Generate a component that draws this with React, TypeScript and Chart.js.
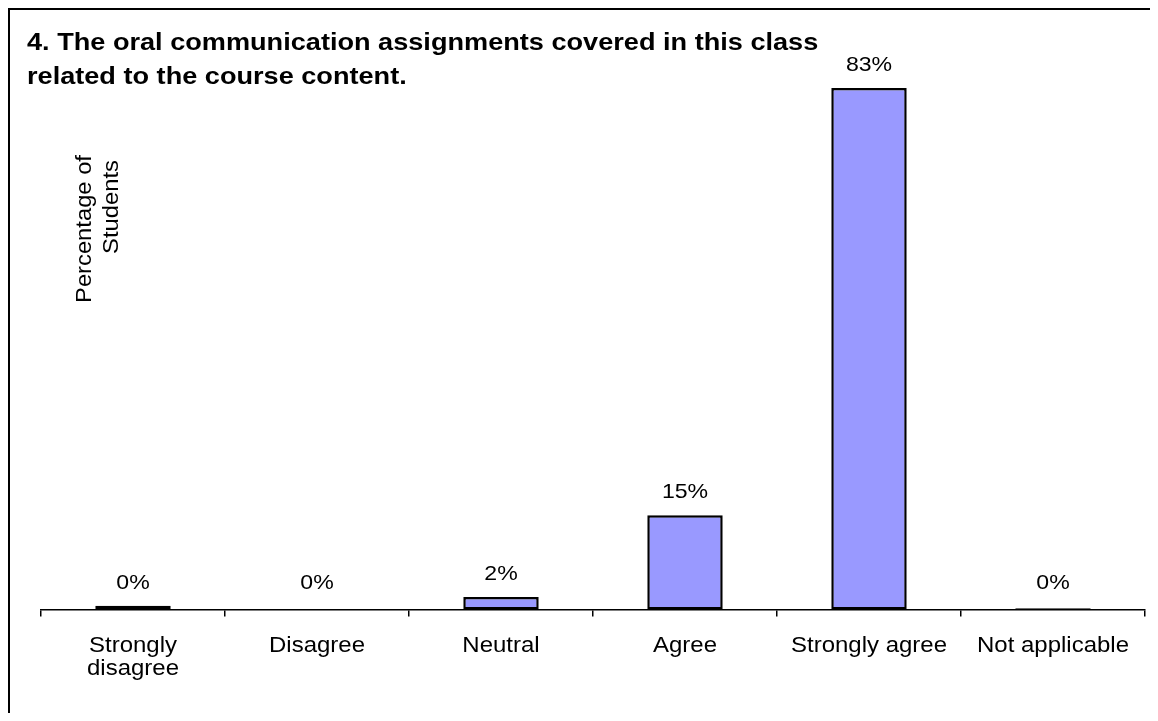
import React, { useEffect, useRef } from "react";
import { Chart, registerables } from "chart.js";

Chart.register(...registerables);

const titleLines = [
  "4. The oral communication assignments covered in this class",
  "related to the course content.",
];
const yTitleLines = ["Percentage of", "Students"];
const categories = ["Strongly disagree", "Disagree", "Neutral", "Agree", "Strongly agree", "Not applicable"];
const categoryLines = [["Strongly", "disagree"], ["Disagree"], ["Neutral"], ["Agree"], ["Strongly agree"], ["Not applicable"]];
const percentValues = [0.6, 0, 2, 15, 83, 0.2];
const valueLabels = ["0%", "0%", "2%", "15%", "83%", "0%"];
const yMax = 90;

const FONT = '"Liberation Sans", Arial, Helvetica, sans-serif';

function drawText(
  ctx: CanvasRenderingContext2D,
  text: string,
  px: number,
  py: number,
  font: string,
  sx: number,
  align: CanvasTextAlign,
  rotate = 0
) {
  ctx.save();
  ctx.translate(px, py);
  if (rotate) ctx.rotate(rotate);
  ctx.scale(sx, 1);
  ctx.font = font;
  ctx.textAlign = align;
  ctx.textBaseline = "alphabetic";
  ctx.fillStyle = "#000";
  ctx.fillText(text, 0, 0);
  ctx.restore();
}

const textPlugin = {
  id: "textPlugin",
  afterDraw(chart: any) {
    const ctx: CanvasRenderingContext2D = chart.ctx;
    const xs = chart.scales.x;
    const ys = chart.scales.y;
    const y0 = ys.getPixelForValue(0);
    // title
    titleLines.forEach((t, i) => {
      drawText(ctx, t, 17, 39.5 + i * 34, `bold 24px ${FONT}`, 1.13, "left");
    });
    // y axis title (rotated)
    drawText(ctx, yTitleLines[0], 81, 219, `22px ${FONT}`, 1.08, "center", -Math.PI / 2);
    drawText(ctx, yTitleLines[1], 108, 197, `22px ${FONT}`, 1.08, "center", -Math.PI / 2);
    // data labels
    percentValues.forEach((v, i) => {
      const cx = xs.getPixelForValue(i);
      const top = Math.min(ys.getPixelForValue(v), y0 - 3.5);
      drawText(ctx, valueLabels[i], cx, top - 17, `21px ${FONT}`, 1.1, "center");
    });
    // category labels
    categoryLines.forEach((lines, i) => {
      const cx = xs.getPixelForValue(i);
      lines.forEach((l, j) => {
        drawText(ctx, l, cx, 642 + j * 23, `22px ${FONT}`, 1.09, "center");
      });
    });
  },
};

export default function App() {
  const canvasRef = useRef<HTMLCanvasElement | null>(null);

  useEffect(() => {
    document.body.style.overflow = "hidden";
    const canvas = canvasRef.current;
    if (!canvas) return;
    const chart = new Chart(canvas, {
      type: "bar",
      data: {
        labels: categories,
        datasets: [
          {
            data: percentValues,
            backgroundColor: "#9999FF",
            borderColor: "#000000",
            borderWidth: 2.5,
            borderSkipped: false,
            categoryPercentage: 1,
            barPercentage: 0.41,
          },
        ],
      },
      options: {
        responsive: false,
        animation: false,
        devicePixelRatio: 1,
        layout: { padding: { left: 31, right: 5, top: 34, bottom: 0 } },
        plugins: {
          legend: { display: false },
          tooltip: { enabled: false },
          title: { display: false },
        },
        scales: {
          x: {
            type: "category",
            offset: true,
            grid: {
              display: true,
              drawOnChartArea: false,
              drawTicks: true,
              tickLength: 7,
              color: "#000",
              lineWidth: 1.5,
              offset: true,
            },
            border: { display: true, color: "#000", width: 1.5 },
            ticks: { display: false },
            afterFit: (scale: any) => {
              scale.height = 103.5;
            },
          },
          y: {
            display: false,
            min: 0,
            max: yMax,
          },
        },
      },
      plugins: [textPlugin],
    });
    return () => chart.destroy();
  }, []);

  return (
    <div
      style={{
        width: 1142,
        height: 705,
        borderLeft: "2px solid #000",
        borderTop: "2px solid #000",
        boxSizing: "border-box",
        background: "#fff",
        overflow: "hidden",
      }}
    >
      <canvas ref={canvasRef} width={1140} height={703} style={{ display: "block" }} />
    </div>
  );
}
